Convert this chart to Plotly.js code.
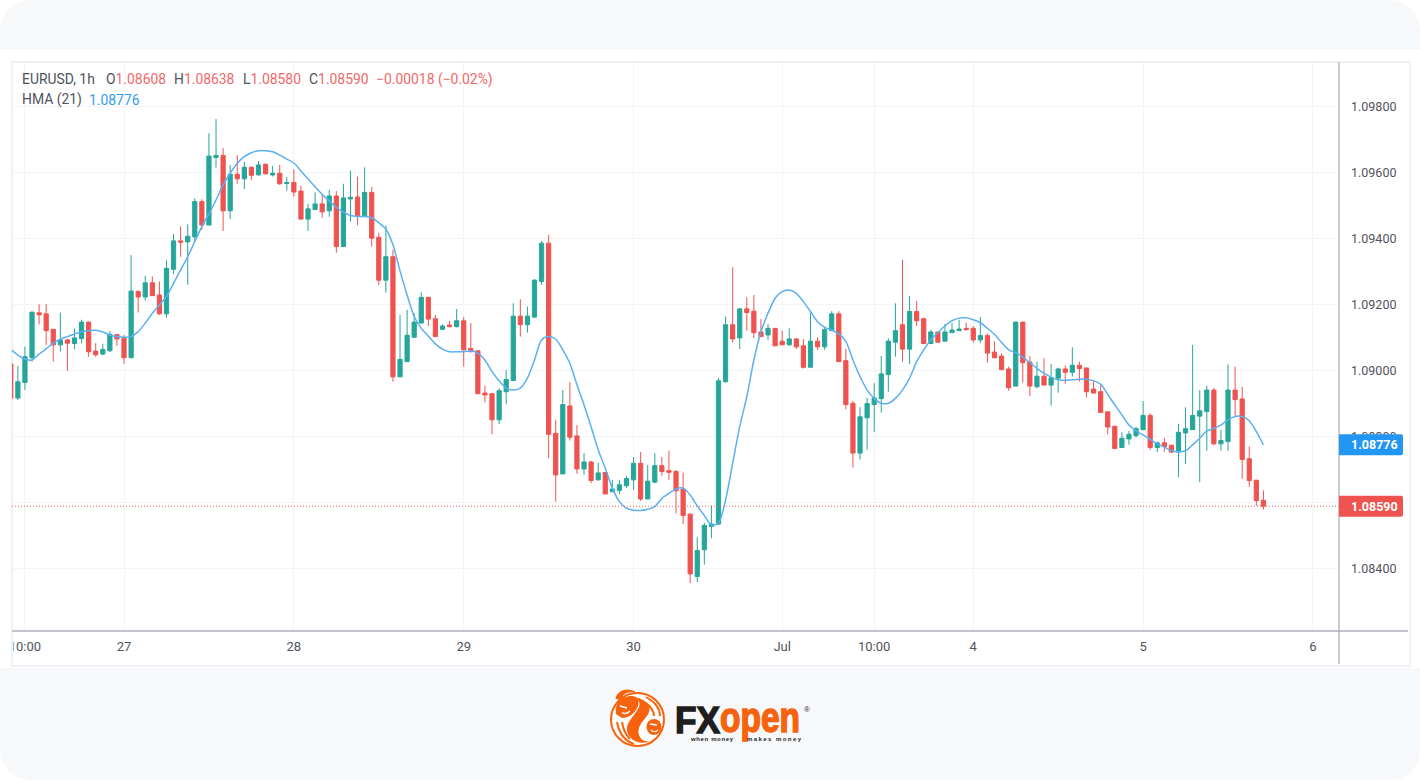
<!DOCTYPE html>
<html>
<head>
<meta charset="utf-8">
<title>EURUSD 1h</title>
<script src="https://cdn.plot.ly/plotly-3.0.1.min.js"></script>
<style>
html,body{margin:0;padding:0;background:#fff;width:1420px;height:780px;overflow:hidden}
#band-top{position:absolute;left:0;top:0;width:1420px;height:50px;background:#f7f8fa;border-radius:30px 30px 0 0}
#band-bottom{position:absolute;left:0;top:668px;width:1420px;height:112px;background:#f7f8fa;border-radius:0 0 30px 30px}
#frame{position:absolute;left:11px;top:61px;width:1396px;height:602px;border:2px solid #eff0f4;background:#fff;box-sizing:content-box}
#chart{position:absolute;left:0;top:0;width:1420px;height:780px}
#edge{position:absolute;left:0;top:632px;width:11px;height:32px;background:#fff;border-right:2px solid #eff0f4}
#logo{position:absolute;left:600px;top:680px;width:230px;height:80px}
</style>
</head>
<body>
<div id="band-top"></div>
<div id="band-bottom"></div>
<div id="frame"></div>
<div id="chart"></div>
<div id="edge"></div>
<svg id="logo" viewBox="600 680 230 80" xmlns="http://www.w3.org/2000/svg">
  <circle cx="637.5" cy="719.5" r="26.5" fill="#fff" stroke="#f7630c" stroke-width="2"/>
  <path d="M616 714 C614 703 622 696 632 696 C636 696 640 700 638 706 C635 714 628 718 622 718 Z" fill="#f7630c"/>
  <path d="M632 697 C646 698 654 707 647 716 C640 724 636 730 640 737 C642 741 646 742 650 741 C640 746 628 740 627 730 C626 722 636 714 639 707 C641 702 638 699 632 697 Z" fill="#f7630c"/>
  <ellipse cx="654" cy="727" rx="7.5" ry="8" fill="#f7630c"/>
  <path d="M617 722 C619 733 625 741 634 744 M622 722 C623 729 626 735 630 739" fill="none" stroke="#f7630c" stroke-width="2"/>
  <path d="M646 697 C655 702 660 708 660 716 M646 703 C651 707 654 711 654 716" fill="none" stroke="#f7630c" stroke-width="2"/>
  <path d="M616 699 C617 690 628 688 635 692 C628 691 622 693 621 700" fill="#f7630c" stroke="#f7630c" stroke-width="1"/>
  <path d="M620 706 L627 708 M622 713 C625 714 628 713 630 711" fill="none" stroke="#fff" stroke-width="1.5"/>
  <path d="M650 724 L657 725 M651 730 C653 732 656 732 658 730" fill="none" stroke="#fff" stroke-width="1.3"/>
  <text x="675" y="733" font-family="Liberation Sans" font-weight="700" font-size="36" fill="#1e1e1e" stroke="#1e1e1e" stroke-width="1.4" textLength="45" lengthAdjust="spacingAndGlyphs">FX</text>
  <text x="720" y="732" font-family="Liberation Sans" font-weight="700" font-size="42" fill="#f7630c" stroke="#f7630c" stroke-width="1.5" textLength="80" lengthAdjust="spacingAndGlyphs">open</text>
  <text x="691" y="740.5" font-family="Liberation Sans" font-weight="700" font-size="6" fill="#1e1e1e" textLength="42" lengthAdjust="spacing">when money</text>
  <text x="747" y="740.5" font-family="Liberation Sans" font-weight="700" font-size="6" fill="#1e1e1e" textLength="54" lengthAdjust="spacing">makes money</text>
  <text x="804" y="712" font-family="Liberation Sans" font-size="8" fill="#333">®</text>
</svg>
<script>
// Hourly EURUSD values, in units of 0.00001, one per bar
const openPts = [
109021,108918,108965,109040,109176,109173,109126,109079,109094,109083,
109098,109148,109060,109051,109061,109110,109099,109040,109241,109224,
109267,109230,109173,109308,109394,109391,109406,109513,109442,109647,
109653,109485,109596,109582,109617,109594,109626,109594,109599,109568,
109571,109545,109460,109489,109506,109485,109530,109377,109521,109527,
109470,109541,109405,109275,109346,108982,109028,109102,109145,109223,
109158,109126,109139,109134,109152,109068,109061,108933,108931,108852,
108937,108971,109166,109140,109163,109271,109387,108811,108688,108894,
108803,108703,108724,108670,108692,108634,108638,108652,108670,108720,
108612,108663,108713,108698,108695,108642,108566,108377,108458,108529,
108536,108967,109140,109100,109188,109181,109118,109109,109129,109090,
109079,109097,109076,109011,109090,109073,109122,109173,109031,108902,
108751,108858,108898,108916,108989,109087,109140,109066,109180,109158,
109083,109118,109090,109116,109122,109129,109129,109094,109107,109057,
109045,109006,108954,109148,109027,108952,108984,108957,108978,109006,
108996,109017,109009,108945,108937,108876,108832,108768,108794,108804,
108822,108865,108768,108782,108775,108754,108812,108822,108863,108877,
108942,108779,108786,108942,108915,108734,108669,108608];
const highPts = [
109021,109015,109074,109180,109202,109202,109127,109177,109097,109129,
109155,109149,109084,109082,109121,109112,109109,109351,109243,109288,
109286,109271,109335,109415,109437,109444,109523,109520,109720,109763,
109675,109624,109654,109634,109619,109636,109629,109621,109624,109587,
109611,109561,109506,109541,109533,109549,109545,109567,109607,109589,
109617,109557,109418,109440,109367,109170,109185,109175,109238,109223,
109170,109141,109152,109188,109163,109145,109061,108955,108934,108948,
109003,109205,109217,109195,109278,109394,109412,108852,108942,108966,
108836,108751,108728,108722,108692,108670,108670,108682,108739,108754,
108715,108751,108739,108758,108700,108692,108569,108496,108540,108593,
108978,109165,109314,109190,109223,109230,109157,109142,109129,109122,
109129,109099,109096,109177,109102,109134,109181,109181,109067,108909,
108890,108919,108963,109045,109099,109205,109336,109227,109212,109161,
109124,109118,109142,109145,109155,109146,109136,109163,109114,109089,
109054,109013,109148,109148,109045,109028,109038,109021,109010,109016,
109072,109028,109009,108970,108958,108876,108835,108814,108818,108831,
108909,108872,108786,108797,108775,108840,108890,109079,108942,108955,
108948,108821,109020,109013,108951,108771,108669,108638];
const lowPts = [
108912,108912,108942,109028,109141,109079,109028,109058,109000,109066,
109084,109043,109043,109048,109058,109076,109021,109040,109177,109213,
109227,109170,109161,109293,109346,109261,109392,109427,109442,109616,
109424,109460,109567,109551,109579,109592,109596,109589,109564,109546,
109528,109458,109424,109488,109464,109467,109358,109377,109452,109441,
109470,109377,109261,109237,108967,108982,109028,109102,109145,109136,
109104,109124,109132,109132,109013,109058,108931,108905,108808,108839,
108899,108971,109104,109116,109163,109261,108735,108604,108688,108789,
108688,108685,108660,108668,108627,108634,108627,108645,108639,108606,
108612,108660,108682,108670,108569,108536,108357,108360,108413,108493,
108533,108965,109086,109066,109122,109099,109102,109094,109076,109079,
109076,109066,109007,109011,109064,109064,109122,109028,108884,108707,
108732,108761,108815,108874,108937,109043,109028,109021,109136,109083,
109082,109087,109090,109116,109122,109122,109086,109084,109025,109038,
109003,108940,108954,108965,108924,108948,108957,108895,108934,108961,
108983,108968,108920,108931,108874,108808,108765,108768,108776,108798,
108822,108761,108754,108755,108751,108678,108718,108822,108663,108758,
108775,108758,108758,108862,108673,108649,108591,108580];
const closePts = [
108918,108967,109043,109178,109170,109122,109079,109094,109084,109100,
109148,109058,109049,109065,109111,109097,109040,109242,109224,109267,
109228,109173,109311,109394,109390,109408,109513,109442,109651,109653,
109485,109596,109582,109617,109593,109624,109597,109599,109567,109571,
109542,109460,109491,109506,109482,109530,109377,109524,109526,109470,
109541,109402,109275,109346,108982,109035,109108,109148,109223,109157,
109104,109136,109134,109152,109064,109058,108931,108927,108852,108940,
108974,109166,109140,109166,109275,109387,108808,108685,108898,108799,
108703,108724,108668,108691,108627,108642,108655,108674,108720,108612,
108666,108713,108695,108693,108637,108562,108385,108456,108532,108536,
108970,109140,109097,109188,109177,109116,109104,109129,109076,109079,
109097,109073,109011,109090,109073,109125,109173,109028,108898,108751,
108861,108901,108918,108991,109090,109122,109066,109180,109152,109083,
109118,109087,109118,109124,109127,109125,109094,109107,109054,109040,
109004,108949,109148,109025,108954,108984,108957,108979,109006,108996,
109017,109007,108937,108933,108874,108830,108765,108796,108808,108825,
108865,108768,108782,108771,108754,108814,108825,108865,108879,108942,
108779,108789,108942,108913,108732,108668,108607,108590];
const hmaPts = [
109066,109048,109036,109033,109051,109067,109084,109096,109104,109112,
109119,109122,109123,109118,109109,109104,109102,109104,109119,109145,
109175,109200,109225,109266,109306,109346,109392,109437,109476,109518,
109564,109599,109629,109649,109661,109667,109667,109664,109654,109642,
109630,109606,109582,109558,109535,109515,109496,109481,109471,109468,
109468,109464,109449,109430,109382,109303,109230,109165,109129,109106,
109082,109066,109058,109058,109058,109061,109054,109033,108998,108970,
108948,108942,108948,108978,109033,109094,109104,109096,109064,109023,
108958,108897,108831,108761,108705,108645,108604,108584,108578,108577,
108581,108589,108614,108629,108642,108645,108624,108591,108562,108533,
108539,108609,108720,108831,108922,109033,109119,109175,109220,109240,
109245,109235,109210,109180,109149,109132,109124,109112,109089,109033,
108983,108942,108917,108902,108902,108917,108942,108978,109028,109064,
109094,109116,109136,109152,109160,109161,109155,109146,109129,109111,
109086,109064,109055,109042,109025,109008,108993,108981,108973,108971,
108973,108975,108975,108970,108960,108929,108897,108867,108836,108818,
108806,108793,108779,108769,108758,108755,108758,108776,108796,108818,
108826,108836,108852,108862,108862,108849,108816,108776];

// Time axis: bar numbers at which the labels fall, and the labels
const timeTickBars = [2,16,40,64,88,109,122,136,160,184];
const timeTickLabels = ["10:00","27","28","29","30","Jul","10:00","4","5","6"];
const priceTicks = [1.084,1.086,1.088,1.09,1.092,1.094,1.096,1.098];
// 1.08600 sits wholly under the last-price tag in the reference, so its label is not shown
const priceTickLabels = ["1.08400","","1.08800","1.09000","1.09200","1.09400","1.09600","1.09800"];

const lastPrice = 1.0859;
const lastHma = 1.08776;
const UP = "#26a69a", DOWN = "#ef5350", BLUE = "#2196f3", HMA = "#5ab0f2";
const INK = "#50535e", FONT = "Roboto, 'Liberation Sans', sans-serif";
const toPrice = v => v / 100000;
const bars = openPts.map((_, i) => i);

const candles = {
  type: "candlestick", x: bars,
  open: openPts.map(toPrice), high: highPts.map(toPrice),
  low: lowPts.map(toPrice), close: closePts.map(toPrice),
  increasing: {line: {color: UP, width: 1}, fillcolor: UP},
  decreasing: {line: {color: DOWN, width: 1}, fillcolor: DOWN},
  whiskerwidth: 0, hoverinfo: "skip", showlegend: false
};
const hma = {
  type: "scatter", mode: "lines", x: bars, y: hmaPts.map(toPrice),
  line: {color: HMA, width: 1.5, shape: "spline", smoothing: 0.8},
  hoverinfo: "skip", showlegend: false
};

function legendNote(x, y, text) {
  return {xref: "paper", yref: "paper", x: (x - 14) / 1327, y: (631 - y) / 569,
    xanchor: "left", yanchor: "middle", showarrow: false, align: "left",
    text: text, font: {family: FONT, size: 13.9, color: INK}};
}
const red = s => '<span style="color:#f0686a">' + s + "</span>";
const notes = [
  legendNote(22, 79, "EURUSD, 1h"),
  legendNote(106, 79, "O" + red("1.08608")),
  legendNote(174, 79, "H" + red("1.08638")),
  legendNote(243, 79, "L" + red("1.08580")),
  legendNote(309, 79, "C" + red("1.08590")),
  legendNote(376, 79, red("−0.00018 (−0.02%)")),
  legendNote(22, 100, 'HMA (21)'),
  legendNote(89, 100, '<span style="color:#2f9cf0">1.08776</span>'),
  {xref: "paper", yref: "y", x: 1, y: lastHma, xanchor: "left", yanchor: "middle", xshift: 10, showarrow: false,
   text: "<b>1.08776</b>", font: {family: FONT, size: 12.5, color: "#fff"}},
  {xref: "paper", yref: "y", x: 1, y: lastPrice, xanchor: "left", yanchor: "middle", xshift: 10, showarrow: false,
   text: "<b>1.08590</b>", font: {family: FONT, size: 12.5, color: "#fff"}}
];
function tag(y, color) {
  return {type: "path", layer: "above", xref: "paper", yref: "y",
    xsizemode: "pixel", ysizemode: "pixel", xanchor: 1, yanchor: y,
    path: "M0,-10.5 L62,-10.5 Q64,-10.5 64,-8.5 L64,8.5 Q64,10.5 62,10.5 L0,10.5 Z",
    fillcolor: color, line: {width: 0}};
}
const shapes = [
  {type: "line", layer: "above", xref: "paper", yref: "y", x0: 0, x1: 1, y0: lastPrice, y1: lastPrice,
   line: {color: "#ef5350", width: 1, dash: "1px,2px"}, opacity: 0.9},
  {type: "line", layer: "above", xref: "paper", yref: "paper", x0: 0, x1: 1396 / 1327, y0: 0, y1: 0,
   line: {color: "#c4c5cc", width: 2}},
  {type: "line", layer: "above", xref: "paper", yref: "paper", x0: 1, x1: 1, y0: -33 / 569, y1: 1,
   line: {color: "#a9abb3", width: 1.2}},
  tag(lastHma, BLUE),
  tag(lastPrice, "#ef5350")
];

const layout = {
  width: 1420, height: 780,
  margin: {l: 12, r: 81, t: 62, b: 149, pad: 0},
  paper_bgcolor: "rgba(0,0,0,0)", plot_bgcolor: "rgba(0,0,0,0)",
  showlegend: false, boxgap: 0.15, font: {family: FONT, color: INK},
  xaxis: {type: "linear", range: [0.17, 187.68], rangeslider: {visible: false},
    tickmode: "array", tickvals: timeTickBars, ticktext: timeTickLabels,
    showgrid: true, gridcolor: "#f3f4f6", gridwidth: 1, zeroline: false, showline: false,
    ticks: "", ticklabelstandoff: 6, tickfont: {family: FONT, size: 13, color: INK}, fixedrange: true},
  yaxis: {side: "right", range: [1.08212, 1.09936],
    tickmode: "array", tickvals: priceTicks, ticktext: priceTickLabels,
    showgrid: true, gridcolor: "#f3f4f6", gridwidth: 1, zeroline: false, showline: false,
    ticks: "", ticklabelstandoff: 11, tickfont: {family: FONT, size: 12.5, color: INK}, fixedrange: true},
  shapes: shapes, annotations: notes
};
Plotly.newPlot("chart", [candles, hma], layout, {displayModeBar: false, staticPlot: true});
</script>
</body>
</html>
